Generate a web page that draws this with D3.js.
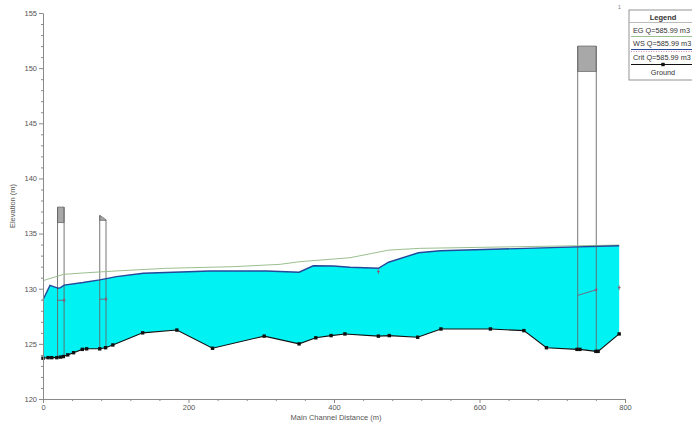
<!DOCTYPE html>
<html>
<head>
<meta charset="utf-8">
<script src="https://cdn.jsdelivr.net/npm/d3@7"></script>
<style>
  html, body { margin: 0; padding: 0; background: #fff; }
  svg { display: block; font-family: "Liberation Sans", Arial, sans-serif; }
</style>
</head>
<body>
<svg id="chart" width="692" height="422"></svg>
<script>
// Profile plot: main channel distance (m) vs elevation (m)

// Ground profile
const groundDist = [0, 7, 12, 19, 24, 28, 34, 42, 54, 60, 78, 86, 96, 137, 184, 233, 304, 352, 375, 396, 415, 461, 476, 515, 547, 615, 661, 692, 734, 738, 760, 763, 792];
const groundElev = [123.7, 123.75, 123.75, 123.75, 123.8, 123.85, 124.0, 124.2, 124.5, 124.55, 124.55, 124.65, 124.9, 126.0, 126.25, 124.6, 125.7, 125.0, 125.55, 125.75, 125.9, 125.7, 125.75, 125.6, 126.35, 126.35, 126.2, 124.65, 124.5, 124.5, 124.32, 124.32, 125.9];

// Water surface (WS)
const wsDist = [0, 9.6, 16.5, 21, 24, 29, 55, 78, 101, 138, 230, 307, 352, 371.5, 399, 422, 461, 475, 516, 546, 711, 792];
const wsElev = [129.0, 130.3, 130.15, 130.05, 130.1, 130.33, 130.56, 130.8, 131.1, 131.4, 131.6, 131.6, 131.5, 132.08, 132.06, 131.94, 131.85, 132.4, 133.26, 133.44, 133.75, 133.9];

// Energy grade line (EG)
const egDist = [0, 28, 60, 106, 170, 262, 326, 353, 399, 422, 475, 518, 792];
const egElev = [130.73, 131.3, 131.45, 131.63, 131.85, 132.0, 132.21, 132.45, 132.69, 132.81, 133.5, 133.66, 133.96];

// Critical depth segments and points
const critSegStart = [[20, 128.95], [78, 129.05], [735, 129.4]];
const critSegEnd   = [[29, 128.95], [86.6, 129.05], [760.5, 129.9]];
const critPoints   = [[461, 131.55], [792, 130.1]];

// Structures: left/right distance, deck top, deck bottom
const structLeft   = [20, 78, 735];
const structRight  = [29, 86.6, 760.5];
const structTopL   = [137.4, 136.65, 152.0];
const structTopR   = [137.4, 136.25, 152.0];
const structDeckLo = [136.0, 136.2, 149.7];
const structBase   = [123.75, 124.55, 124.4];

// Axis ticks
const xMajor = [0, 200, 400, 600, 800];
const yMajor = [120, 125, 130, 135, 140, 145, 150, 155];

const legendTitle = "Legend";
const legendRows = ["EG  Q=585.99 m3", "WS  Q=585.99 m3", "Crit  Q=585.99 m3", "Ground"];

const svg = d3.select("#chart");
const x = d3.scaleLinear().domain([0, 800]).range([43, 625]);
const y = d3.scaleLinear().domain([120, 155]).range([399, 13]);

const ground = groundDist.map((d, i) => [d, groundElev[i]]);
const ws = wsDist.map((d, i) => [d, wsElev[i]]);
const eg = egDist.map((d, i) => [d, egElev[i]]);

const line = d3.line().x(d => x(d[0])).y(d => y(d[1]));

// Water body between WS and ground
const waterPoly = ws.concat(ground.slice().reverse());
svg.append("path")
  .attr("d", line(waterPoly) + "Z")
  .attr("fill", "#00f2f2")
  .attr("stroke", "none");

// Structures
const structs = structLeft.map((l, i) => ({
  l, r: structRight[i], tl: structTopL[i], tr: structTopR[i], lo: structDeckLo[i], base: structBase[i]
}));
const sg = svg.append("g");
structs.forEach(s => {
  // deck (grey)
  sg.append("path")
    .attr("d", line([[s.l, s.tl], [s.r, s.tr], [s.r, s.lo], [s.l, s.lo]]) + "Z")
    .attr("fill", "#a8a8a8")
    .attr("stroke", "#6a6a6a")
    .attr("stroke-width", 0.8);
  // opening outline down to the bed
  sg.append("path")
    .attr("d", line([[s.l, s.base], [s.l, s.tl]]))
    .attr("stroke", "#666").attr("stroke-width", 0.9).attr("fill", "none");
  sg.append("path")
    .attr("d", line([[s.r, s.base], [s.r, s.tr]]))
    .attr("stroke", "#666").attr("stroke-width", 0.9).attr("fill", "none");
});

// EG line
svg.append("path")
  .attr("d", line(eg))
  .attr("fill", "none")
  .attr("stroke", "#9bbf8f")
  .attr("stroke-width", 1);

// WS line
svg.append("path")
  .attr("d", line(ws))
  .attr("fill", "none")
  .attr("stroke", "#24489a")
  .attr("stroke-width", 1.4);

// Critical depth
critSegStart.forEach((p, i) => {
  svg.append("path")
    .attr("d", line([p, critSegEnd[i]]))
    .attr("stroke", "#7a5a78").attr("stroke-width", 0.9).attr("fill", "none");
});
critPoints.concat(critSegEnd).forEach(p => {
  svg.append("path")
    .attr("d", line([[p[0] - 2, p[1]], [p[0] + 2, p[1]]]))
    .attr("stroke", "#9a5070").attr("stroke-width", 0.9);
  svg.append("path")
    .attr("d", line([[p[0], p[1] - 0.2], [p[0], p[1] + 0.2]]))
    .attr("stroke", "#9a5070").attr("stroke-width", 0.9);
});

// Ground line with markers
svg.append("path")
  .attr("d", line(ground))
  .attr("fill", "none")
  .attr("stroke", "#111")
  .attr("stroke-width", 1.1);
svg.append("g").selectAll("rect")
  .data(ground)
  .join("rect")
  .attr("x", d => x(d[0]) - 1.7)
  .attr("y", d => y(d[1]) - 1.7)
  .attr("width", 3.4)
  .attr("height", 3.4)
  .attr("fill", "#111");

// Axes
const axisColor = "#8a8a8a";
const yMinor = d3.range(120, 156, 1).filter(v => v % 5 !== 0);
const xMinor = d3.range(0, 801, 40).filter(v => v % 200 !== 0);

svg.append("g").attr("transform", `translate(${x(0)},0)`)
  .call(d3.axisLeft(y).tickValues(yMajor).tickSize(4).tickSizeOuter(0).tickPadding(2));
svg.append("g").attr("transform", `translate(${x(0)},0)`)
  .call(d3.axisLeft(y).tickValues(yMinor).tickSize(2).tickFormat(""))
  .call(g => g.select(".domain").remove());

svg.append("g").attr("transform", `translate(0,${y(120)})`)
  .call(d3.axisBottom(x).tickValues(xMajor).tickSize(4).tickSizeOuter(0).tickPadding(2));
svg.append("g").attr("transform", `translate(0,${y(120)})`)
  .call(d3.axisBottom(x).tickValues(xMinor).tickSize(2).tickFormat(""))
  .call(g => g.select(".domain").remove());

svg.selectAll(".domain, .tick line").attr("stroke", axisColor);
svg.selectAll(".tick text").attr("fill", "#555").attr("font-size", 7.5)
  .attr("font-family", "Liberation Sans, Arial, sans-serif");

// Axis titles
svg.append("text")
  .attr("transform", `translate(15,${(y(120) + y(155)) / 2}) rotate(-90)`)
  .attr("text-anchor", "middle")
  .attr("font-size", 7.5)
  .attr("fill", "#555")
  .text("Elevation (m)");
svg.append("text")
  .attr("x", (x(0) + x(800)) / 2 + 2)
  .attr("y", 419.5)
  .attr("text-anchor", "middle")
  .attr("font-size", 7.5)
  .attr("fill", "#555")
  .text("Main Channel Distance (m)");

// small marker near legend
svg.append("text")
  .attr("x", 618).attr("y", 9)
  .attr("font-size", 5).attr("fill", "#777")
  .text("1");

// Legend
const lg = svg.append("g").attr("transform", "translate(629,10)");
lg.append("rect").attr("x", 0).attr("y", 0).attr("width", 68).attr("height", 70)
  .attr("fill", "#fff").attr("stroke", "#888").attr("stroke-width", 0.9);
lg.append("text").attr("x", 34).attr("y", 9.5).attr("text-anchor", "middle")
  .attr("font-size", 7.5).attr("font-weight", "bold").attr("fill", "#333").text(legendTitle);
lg.append("line").attr("x1", 0).attr("x2", 68).attr("y1", 12.5).attr("y2", 12.5)
  .attr("stroke", "#aaa").attr("stroke-width", 0.8);

const rowBase = [23, 36, 49.5, 65];
legendRows.forEach((t, i) => {
  lg.append("text")
    .attr("x", i === 3 ? 34 : 4)
    .attr("y", rowBase[i])
    .attr("text-anchor", i === 3 ? "middle" : "start")
    .attr("font-size", 7.3)
    .attr("fill", "#333")
    .text(t);
});
// legend line samples
lg.append("line").attr("x1", 2).attr("x2", 68).attr("y1", 26.5).attr("y2", 26.5)
  .attr("stroke", "#9bbf8f").attr("stroke-width", 1);
lg.append("line").attr("x1", 2).attr("x2", 68).attr("y1", 39.5).attr("y2", 39.5)
  .attr("stroke", "#24489a").attr("stroke-width", 1.2);
lg.append("line").attr("x1", 2).attr("x2", 68).attr("y1", 41.5).attr("y2", 41.5)
  .attr("stroke", "#d07090").attr("stroke-width", 0.8).attr("stroke-dasharray", "1,1.5");
lg.append("line").attr("x1", 2).attr("x2", 68).attr("y1", 54.5).attr("y2", 54.5)
  .attr("stroke", "#111").attr("stroke-width", 1);
lg.append("rect").attr("x", 32.3).attr("y", 52.8).attr("width", 3.4).attr("height", 3.4)
  .attr("fill", "#111");
</script>
</body>
</html>
